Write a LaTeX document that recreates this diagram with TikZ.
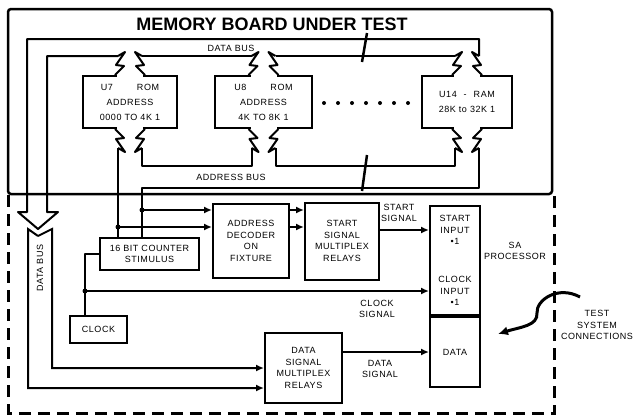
\documentclass[tikz,border=0pt]{standalone}
\usepackage{fontspec}
\setmainfont{Liberation Sans}
\newfontfamily\boardfont[LetterSpace=6]{Liberation Sans}
\usetikzlibrary{positioning,calc,arrows.meta}

% zigzag bus ports above and below a chip
\newcommand{\chipports}[1]{%
  \fill[white] ($(#1.north)+(-13,-2)$) rectangle ($(#1.north)+(13,2)$);
  \fill[white] ($(#1.south)+(-13,-2)$) rectangle ($(#1.south)+(13,2)$);
  \draw[bus] ($(#1.north)+(-15,0)$) -- ++(9,-9) -- ++(-8,-1) -- ++(9,-13) -- ++(-7,4) coordinate (#1-tl);
  \draw[bus] ($(#1.north)+(15,0)$) -- ++(-9,-9) -- ++(8,-1) -- ++(-9,-13) -- ++(7,4) coordinate (#1-tr);
  \draw[bus] ($(#1.south)+(-15,0)$) -- ++(9,9) -- ++(-8,1) -- ++(9,13) -- ++(-7,-4) coordinate (#1-bl);
  \draw[bus] ($(#1.south)+(15,0)$) -- ++(-9,9) -- ++(8,1) -- ++(-9,13) -- ++(7,-4) coordinate (#1-br);
}

\begin{document}
\begin{tikzpicture}[
    x=1pt, y=-1pt,
    txt/.style={font=\boardfont\fontsize{9}{11.5}\selectfont, align=center, inner sep=0pt},
    box/.style={rectangle, draw, line width=2pt, txt},
    chip/.style={box, minimum width=94, minimum height=52, font=\boardfont\fontsize{9}{15}\selectfont},
    bus/.style={line width=2pt, line join=round},
    arrow/.style={-{Latex[length=8pt, width=7pt]}, line width=2pt},
    fixture/.style={line width=2.8pt, dash pattern=on 12pt off 7pt}
]
    \useasboundingbox (0,0) rectangle (635,418);

    % Memory board
    \node[rectangle, draw, line width=2.5pt, rounded corners=3pt, minimum width=544, minimum height=185] (board) at (280,101.5) {};
    \node[font=\bfseries\fontsize{18}{18}\selectfont] (title) at (272,24) {MEMORY BOARD UNDER TEST};

    % Chips
    \node[chip] (u7) at (130,102) {U7\hspace{24pt}ROM\\ADDRESS\\0000 TO 4K 1};
    \node[chip, minimum width=97, right=36pt of u7] (u8) {U8\hspace{24pt}ROM\\ADDRESS\\4K TO 8K 1};
    \node[chip, minimum width=90, right=108pt of u8] (u14) {U14\hspace{7pt}-\hspace{7pt}RAM\\28K to 32K 1};
    \chipports{u7}
    \chipports{u8}
    \chipports{u14}
    \foreach \i in {0,...,6}
        \fill (324+14*\i,103) circle (2pt);

    % Fixture
    \node[box, minimum width=99, minimum height=32] (cnt) at (149.5,254) {16 BIT COUNTER\\STIMULUS};
    \node[box, minimum width=57, minimum height=27] (clk) at (98.5,329.5) {CLOCK};
    \node[box, minimum width=76, minimum height=74] (dec) at (251,241) {ADDRESS\\DECODER\\ON\\FIXTURE};
    \node[box, minimum width=74, minimum height=77, right=14pt of dec] (smux) {START\\SIGNAL\\MULTIPLEX\\RELAYS};
    \node[box, minimum width=77, minimum height=70] (dmux) at (303.5,368) {DATA\\SIGNAL\\MULTIPLEX\\RELAYS};

    % SA processor
    \node[box, minimum width=50, minimum height=109] (sa) at (455,260.5) {};
    \node[box, minimum width=50, minimum height=70, below=0pt of sa] (sadata) {DATA};
    \node[txt] (startin) at (455,230) {START\\INPUT\\\textbullet1};
    \node[txt] (clockin) at (455,291) {CLOCK\\INPUT\\\textbullet1};

    % Data bus
    \draw[bus] (u14-tr) -- ++(0,-17) -| (27,212) -- ++(-9,0) -- ++(20,17) -- ++(20,-17) -- ++(-11,0) |- (u7-tl);
    \draw[bus] (u7-tr) -- (u8-tl);
    \draw[bus] (u8-tr) -- (u14-tl);
    \draw[bus, line width=2.5pt] (367,33) -- (362,62);
    \node[txt] at (231,48) {DATA BUS};

    % Address bus
    \coordinate (abus) at (142,188);
    \draw[bus] (u7-br) -- ++(0,18) -| (u8-bl);
    \draw[bus] (u8-br) -- ++(0,18) -| (u14-bl);
    \draw[bus] (u14-br) |- (abus) -- (abus |- cnt.north);
    \draw[bus] (u7-bl) -- (u7-bl |- cnt.north);
    \draw[bus, line width=2.5pt] (367,155) -- (362,191);
    \node[txt] at (231,177) {ADDRESS BUS};

    % Decoder inputs
    \coordinate (j1) at (142,210);
    \coordinate (j2) at (118,227);
    \fill (j1) circle (2.5pt);
    \fill (j2) circle (2.5pt);
    \draw[arrow] (j1) -- (j1 -| dec.west);
    \draw[arrow] (j2) -- (j2 -| dec.west);
    \draw[arrow] (dec.east |- j1) -- (smux.west |- j1);
    \draw[arrow] (dec.east |- j2) -- (smux.west |- j2);

    % Signals to processor
    \draw[arrow] (smux.east |- startin) -- (sa.west |- startin);
    \node[txt] at (399,213) {START\\SIGNAL};
    \coordinate (cj) at (85,291);
    \draw[bus] (clk.north -| cj) |- (cnt.west);
    \fill (cj) circle (2.5pt);
    \draw[arrow] (cj) -- (sa.west |- clockin);
    \node[txt] at (377,309) {CLOCK\\SIGNAL};
    \draw[arrow] (dmux.east |- sadata) -- (sadata.west);
    \node[txt] at (380,369) {DATA\\SIGNAL};
    \node[txt] at (515,251) {SA\\PROCESSOR};

    % Data bus into fixture
    \coordinate (notch) at (38,236);
    \draw[arrow] (notch) -- ++(-10,-7) |- ([yshift=-20pt]dmux.west);
    \draw[arrow] (notch) -- ++(14,-7) |- (dmux.west);
    \node[txt, rotate=90] at (40,268) {DATA BUS};

    % Fixture outline
    \draw[fixture] ([xshift=2pt]board.south west) -- ++(0,218) -| ([xshift=1pt]board.south east);

    % Test system connections
    \node[txt] (tsys) at (597,325) {TEST\\SYSTEM\\CONNECTIONS};
    \coordinate (wave) at (580,297);
    \draw[line width=3pt, -{Latex[length=10pt, width=9pt]}] (wave) .. controls (558,285) and (536,300) .. (537,313) .. controls (538,326) and (520,327) .. (498,334);
\end{tikzpicture}
\end{document}
